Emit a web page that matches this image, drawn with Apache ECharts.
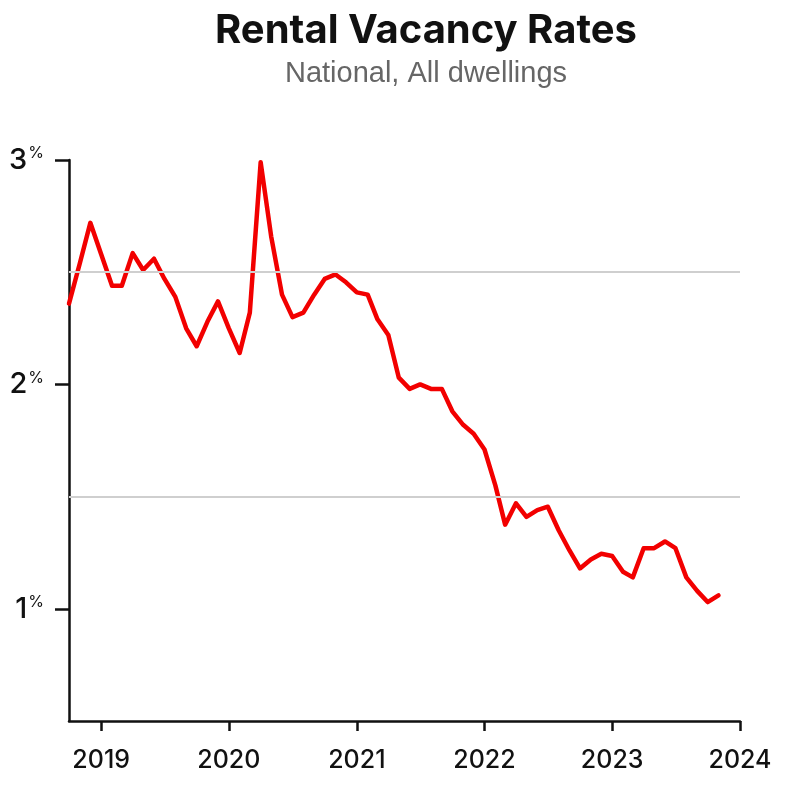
<!DOCTYPE html>
<html><head><meta charset="utf-8">
<script src="https://cdn.jsdelivr.net/npm/echarts@6/dist/echarts.min.js"></script>
<style>html,body{margin:0;padding:0;background:#fff}#c{width:786px;height:792px}</style>
</head><body><div id="c"></div>
<script>
const months = [];
(function(){ let y=2018, m=9; for(let i=0;i<62;i++){ months.push(new Date(y,m,1).getTime()); m++; if(m>11){m=0;y++;} } })();
const vacancy = [2.36,2.54,2.72,2.58,2.44,2.44,2.585,2.51,2.56,2.47,2.39,2.25,2.17,2.28,2.37,2.25,2.14,2.32,2.99,2.66,2.40,2.30,2.32,2.40,2.47,2.49,2.455,2.41,2.40,2.29,2.22,2.03,1.98,2.00,1.98,1.98,1.88,1.82,1.78,1.71,1.55,1.375,1.47,1.41,1.44,1.455,1.35,1.26,1.18,1.22,1.245,1.235,1.165,1.14,1.27,1.27,1.30,1.27,1.14,1.08,1.03,1.06];
const yearTicks = ['2019','2020','2021','2022','2023','2024'];
const yTicks = [1,2,3];
const gridValues = [1.5,2.5];
const DAY = 86400000;

const chart = echarts.init(document.getElementById('c'));
chart.setOption({
  backgroundColor:'#fff',
  animation:false,
  title:{
    text:'Rental Vacancy Rates', subtext:'National, All dwellings',
    left:421, textAlign:'center', top:6, itemGap:8,
    textStyle:{fontFamily:'Inter', fontWeight:'bold', fontSize:40, color:'#111'},
    subtextStyle:{fontFamily:'Liberation Sans', fontSize:29, color:'#666'}
  },
  grid:{left:69, right:46, top:160, bottom:71},
  xAxis:{
    type:'time', min:new Date(2018,9,1).getTime(), max:new Date(2024,0,1).getTime()+DAY*0.5,
    minInterval:365*DAY, maxInterval:366*DAY,
    axisLine:{lineStyle:{color:'#111', width:2.5}},
    axisTick:{show:true, length:10, lineStyle:{color:'#111', width:2.5}},
    axisLabel:{formatter:v=>{const d=new Date(v); const s=String(d.getFullYear()); return yearTicks.indexOf(s)>=0 && d.getMonth()===0 ? s : '';}, fontFamily:'Inter', fontSize:25, fontWeight:500, color:'#111', margin:27, hideOverlap:false, showMinLabel:false, showMaxLabel:true},
    splitLine:{show:false}
  },
  yAxis:{
    type:'value', min:0.5, max:3, interval:0.5,
    axisLine:{show:true, lineStyle:{color:'#111', width:2.5}},
    axisTick:{show:true, length:14, lineStyle:{color:'#111', width:2.5}, customValues:yTicks},
    axisLabel:{customValues:yTicks, margin:25, formatter:v=>'{n|'+v+'}{p|%}',
      rich:{n:{fontFamily:'Inter', fontSize:29, fontWeight:500, color:'#111', verticalAlign:'bottom'}, p:{fontFamily:'Inter', fontSize:16, color:'#111', verticalAlign:'top', padding:[0,0,12,1]}}},
    splitLine:{show:false}
  },
  series:[{
    type:'line', data: months.map((t,i)=>[t, vacancy[i]]), showSymbol:false,
    lineStyle:{color:'#f20000', width:4.5, cap:'round', join:'round'}, itemStyle:{color:'#f20000'},
    markLine:{silent:true, symbol:['none','none'], label:{show:false},
      lineStyle:{color:'#cfcfcf', width:2, type:'solid'}, data: gridValues.map(v=>({yAxis:v}))},
    z:3
  }]
});
</script></body></html>
